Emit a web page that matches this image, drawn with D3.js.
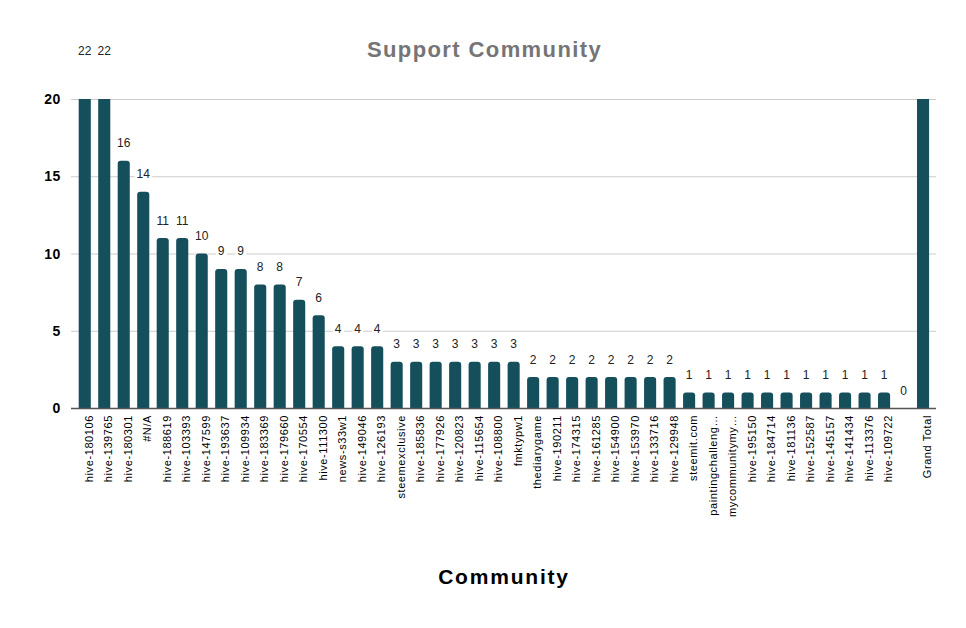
<!DOCTYPE html>
<html>
<head>
<meta charset="utf-8">
<script src="https://cdn.jsdelivr.net/npm/d3@7"></script>
<style>
  html, body { margin: 0; padding: 0; background: #fff; }
  svg { display: block; }
  text { font-family: "Liberation Sans", Arial, sans-serif; }
</style>
</head>
<body>
<svg id="chart" width="966" height="628"></svg>
<script>
const categories = [
  "hive-180106","hive-139765","hive-180301","#N/A","hive-188619","hive-103393","hive-147599",
  "hive-193637","hive-109934","hive-183369","hive-179660","hive-170554","hive-111300","news-s33w1",
  "hive-149046","hive-126193","steemexclusive","hive-185836","hive-177926","hive-120823","hive-115654",
  "hive-108800","fmktypw1","thediarygame","hive-190211","hive-174315","hive-161285","hive-154900",
  "hive-153970","hive-133716","hive-129948","steemit.com","paintingchallenge","mycommunitymy",
  "hive-195150","hive-184714","hive-181136","hive-152587","hive-145157","hive-141434","hive-113376",
  "hive-109722","","Grand Total"
];
const tickLabels = [
  "hive-180106","hive-139765","hive-180301","#N/A","hive-188619","hive-103393","hive-147599",
  "hive-193637","hive-109934","hive-183369","hive-179660","hive-170554","hive-111300","news-s33w1",
  "hive-149046","hive-126193","steemexclusive","hive-185836","hive-177926","hive-120823","hive-115654",
  "hive-108800","fmktypw1","thediarygame","hive-190211","hive-174315","hive-161285","hive-154900",
  "hive-153970","hive-133716","hive-129948","steemit.com","paintingchalleng…","mycommunitymy…",
  "hive-195150","hive-184714","hive-181136","hive-152587","hive-145157","hive-141434","hive-113376",
  "hive-109722","","Grand Total"
];
const values = [
  22,22,16,14,11,11,10,9,9,8,8,7,6,4,4,4,3,3,3,3,3,3,3,2,2,2,2,2,2,2,2,1,1,1,1,1,1,1,1,1,1,1,0,213
];
const showValueLabel = categories.map((c, i) => c !== "Grand Total");
const yTicks = [0, 5, 10, 15, 20];

const svg = d3.select("#chart");
const W = 966, H = 628;
const plot = { left: 75, right: 932.8, top: 99, bottom: 408 };

const x = d3.scaleBand().domain(d3.range(categories.length))
  .range([plot.left, plot.right]).paddingInner(0.38).paddingOuter(0.19);
const y = d3.scaleLinear().domain([0, 20]).range([plot.bottom, plot.top]);

// gridlines
svg.append("g").selectAll("line").data(yTicks.filter(t => t > 0)).join("line")
  .attr("x1", 71).attr("x2", 936)
  .attr("y1", d => y(d) + 0.5).attr("y2", d => y(d) + 0.5)
  .attr("stroke", "#cccccc").attr("stroke-width", 1);

// y tick labels
svg.append("g").selectAll("text").data(yTicks).join("text")
  .attr("x", 61).attr("y", d => y(d)).attr("dy", "0.36em")
  .attr("text-anchor", "end")
  .attr("font-size", 14).attr("font-weight", "bold").attr("fill", "#000")
  .attr("letter-spacing", 0.6)
  .text(d => d);

// clip
svg.append("clipPath").attr("id", "plotclip").append("rect")
  .attr("x", 0).attr("y", plot.top).attr("width", W).attr("height", plot.bottom - plot.top);

const r = 3;
function barPath(i) {
  const x0 = x(i), w = x.bandwidth(), y0 = y(values[i]), yb = y(0);
  const h = yb - y0;
  if (h <= 0) return "";
  const rr = Math.min(r, h, w / 2);
  return `M${x0},${yb}V${y0 + rr}Q${x0},${y0} ${x0 + rr},${y0}H${x0 + w - rr}Q${x0 + w},${y0} ${x0 + w},${y0 + rr}V${yb}Z`;
}
svg.append("g").attr("clip-path", "url(#plotclip)")
  .selectAll("path").data(d3.range(categories.length)).join("path")
  .attr("d", i => barPath(i))
  .attr("fill", "#154f5c");

// baseline
svg.append("line").attr("x1", 71).attr("x2", 936)
  .attr("y1", y(0) + 0.5).attr("y2", y(0) + 0.5)
  .attr("stroke", "#555").attr("stroke-width", 1.3);

// value labels with white background
const lg = svg.append("g");
d3.range(categories.length).filter(i => showValueLabel[i]).forEach(i => {
  const cx = x(i) + x.bandwidth() / 2;
  const by = y(values[i]) - 13.5;
  const t = lg.append("text")
    .attr("x", cx).attr("y", by)
    .attr("text-anchor", "middle")
    .attr("font-size", 12).attr("fill", "#222")
    .text(values[i]);
  const bb = t.node().getBBox();
  lg.insert("rect", () => t.node())
    .attr("x", bb.x - 2).attr("y", bb.y).attr("width", bb.width + 4).attr("height", bb.height)
    .attr("fill", "#fff");
});

// x tick labels
svg.append("g").selectAll("text").data(d3.range(categories.length)).join("text")
  .attr("transform", i => `translate(${x(i) + x.bandwidth() / 2 + 8},415) rotate(-90)`)
  .attr("text-anchor", "end")
  .attr("font-size", 11).attr("fill", "#000")
  .attr("letter-spacing", 0.6)
  .text(i => tickLabels[i]);

// title
svg.append("text").attr("x", 484.5).attr("y", 57)
  .attr("text-anchor", "middle")
  .attr("font-size", 22).attr("font-weight", "bold").attr("fill", "#757575")
  .attr("letter-spacing", 1.4)
  .text("Support Community");

// x axis title
svg.append("text").attr("x", 504).attr("y", 584)
  .attr("text-anchor", "middle")
  .attr("font-size", 21).attr("font-weight", "bold").attr("fill", "#000")
  .attr("letter-spacing", 1.8)
  .text("Community");
</script>
</body>
</html>
